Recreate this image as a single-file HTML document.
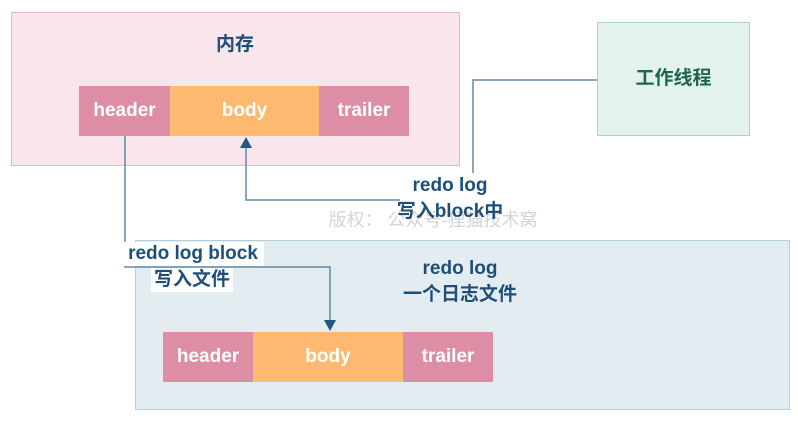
<!DOCTYPE html>
<html><head><meta charset="utf-8"><style>
body{margin:0;width:798px;height:428px;background:#fff;position:relative;overflow:hidden;font-family:"Liberation Sans","Noto Sans CJK SC",sans-serif;}
.a{position:absolute;box-sizing:border-box;}
.t{position:absolute;color:#1d4f78;font-weight:bold;font-size:19px;white-space:nowrap;text-align:center;line-height:24px;}
.blk{position:absolute;color:#fff;font-size:19px;font-weight:bold;display:flex;align-items:center;justify-content:center;}
</style></head><body>
<div class="a" style="left:11px;top:12px;width:449px;height:154px;background:#f9e6ec;border:1.5px solid #e8b4c2"></div>
<div class="t" style="left:200px;top:33px;width:70px;font-size:19px">内存</div>
<div class="blk" style="left:79px;top:86px;width:91px;height:50px;background:#dd8ea4">header</div>
<div class="blk" style="left:170px;top:86px;width:149px;height:50px;background:#fdb96f">body</div>
<div class="blk" style="left:319px;top:86px;width:90px;height:50px;background:#dd8ea4">trailer</div>

<div class="a" style="left:597px;top:22px;width:153px;height:114px;background:#e4f2ed;border:1.5px solid #a9d6c5"></div>
<div class="t" style="left:597px;top:67px;width:153px;color:#1c6650;font-size:19px">工作线程</div>

<div class="a" style="left:135px;top:240px;width:655px;height:170px;background:#e3edf1;border:1.5px solid #b5d0dc"></div>
<div class="blk" style="left:163px;top:332px;width:90px;height:50px;background:#dd8ea4">header</div>
<div class="blk" style="left:253px;top:332px;width:150px;height:50px;background:#fdb96f">body</div>
<div class="blk" style="left:403px;top:332px;width:90px;height:50px;background:#dd8ea4">trailer</div>

<svg class="a" style="left:0;top:0" width="798" height="428">
<g stroke="#6088a6" stroke-width="1.5" fill="none">
<polyline points="597,80 473,80 473,173"/>
<polyline points="400,200 246,200 246,146"/>
<polyline points="125,136 125,267 330,267 330,322"/>
</g>
<polygon points="240,148 252,148 246,137" fill="#1f5a85"/>
<polygon points="324,320 336,320 330,331" fill="#1f5a85"/>
</svg>
<div class="t" style="left:318px;top:208px;width:230px;color:#d4d4d4;font-weight:normal;font-size:18px">版权： 公众号-狸猫技术窝</div>
<div class="t" style="left:390px;top:174px;width:120px;">redo log</div>
<div class="t" style="left:380px;top:200px;width:140px;">写入block中</div>
<div class="t" style="left:122px;top:242px;width:142px;background:#fff">redo log block</div>
<div class="t" style="left:151px;top:268px;width:82px;background:#fff">写入文件</div>
<div class="t" style="left:400px;top:257px;width:120px;">redo log</div>
<div class="t" style="left:390px;top:283px;width:140px;">一个日志文件</div>
</body></html>
